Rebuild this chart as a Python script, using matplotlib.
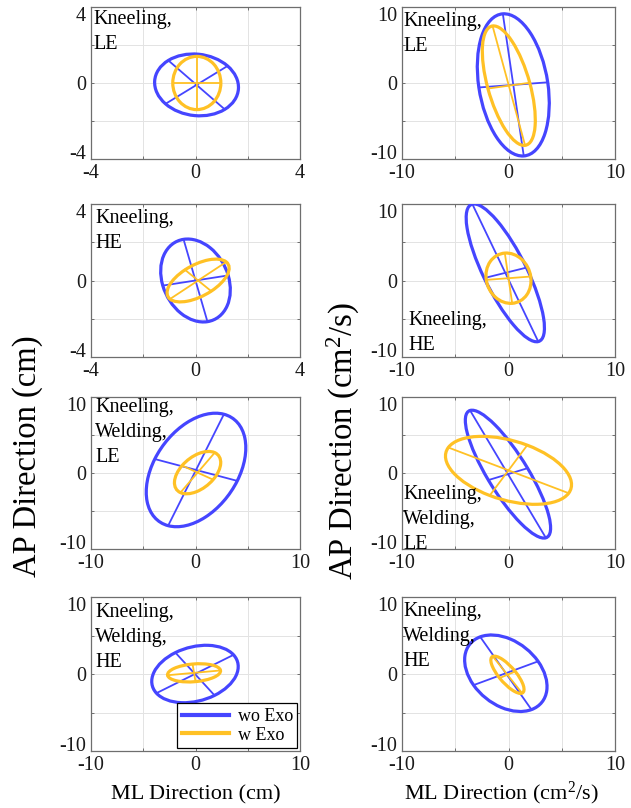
import numpy as np
import matplotlib
matplotlib.use("Agg")
import matplotlib.pyplot as plt
from matplotlib.patches import Ellipse
from matplotlib.lines import Line2D

plt.rcParams['font.family'] = ['Liberation Serif', 'DejaVu Serif']
plt.rcParams['mathtext.fontset'] = 'custom'
plt.rcParams['mathtext.rm'] = 'Liberation Serif'
plt.rcParams['mathtext.it'] = 'Liberation Serif:italic'

# Task conditions (one row each)
conditions = ["Kneeling,\nLE", "Kneeling,\nHE",
              "Kneeling,\nWelding,\nLE", "Kneeling,\nWelding,\nHE"]

# Axis limits per row for the displacement (left) and velocity (right) columns
disp_limits = [4, 4, 10, 10]
vel_limits = [10, 10, 10, 10]

ticks_small = [-4, -2, 0, 2, 4]
ticklabels_small = ["-4", "", "0", "", "4"]
ticks_large = [-10, -5, 0, 5, 10]
ticklabels_large = ["-10", "", "0", "", "10"]

# 95% confidence ellipses: centre (x, y), semi-major, semi-minor, orientation (deg)
# COP displacement, without exoskeleton
disp_wo_cx = [0.04, 0.0, 0.05, -0.05]
disp_wo_cy = [-0.1, 0.0, 0.4, 0.0]
disp_wo_a = [1.68, 2.2, 7.8, 4.45]
disp_wo_b = [1.55, 1.28, 4.2, 3.35]
disp_wo_ang = [-50, 102, 70, 34]
# COP displacement, with exoskeleton
disp_w_cx = [0.05, 0.1, 0.2, -0.14]
disp_w_cy = [0.0, 0.0, 0.05, 0.15]
disp_w_a = [1.40, 1.45, 3.1, 2.55]
disp_w_b = [0.92, 0.75, 1.75, 1.15]
disp_w_ang = [90, 42, 58, 7]
# COP velocity, without exoskeleton
vel_wo_cx = [0.45, -0.3, -0.05, -0.25]
vel_wo_cy = [-0.25, 1.0, -0.15, 0.1]
vel_wo_a = [9.4, 9.5, 9.1, 5.3]
vel_wo_b = [3.25, 2.1, 2.0, 3.4]
vel_wo_ang = [96, -71, -67, -63]
# COP velocity, with exoskeleton
vel_w_cx = [0.03, 0.0, 0.0, -0.1]
vel_w_cy = [-0.35, 0.3, 0.35, -0.1]
vel_w_a = [8.0, 3.3, 6.4, 2.75]
vel_w_b = [2.0, 2.1, 3.75, 0.85]
vel_w_ang = [101, 96, -28, -60]

series_names = ["wo Exo", "w Exo"]
BLUE = "#4545FF"
YELLOW = "#FFC125"

W, H = 631, 808
fig = plt.figure(figsize=(W / 100, H / 100), dpi=100)

col_x = [(91, 300), (402, 615)]
row_y = [(7, 159), (204, 357), (397, 549), (597, 751)]

# label placement: (x offset px, y offset px, anchored at top?)
disp_text_pos = [(2, -3, True), (4, -5, True), (4, -1, True), (4, -6, True)]
vel_text_pos = [(1, -5, True), (6, 7, False), (1, 0, False), (1, -5, True)]

TEXT_SIZE = 14.5


def px_rect(xr, yr):
    return [xr[0] / W, 1 - yr[1] / H, (xr[1] - xr[0]) / W, (yr[1] - yr[0]) / H]


def draw_ellipse(ax, cx, cy, a, b, ang, color):
    ax.add_patch(Ellipse((cx, cy), 2 * a, 2 * b, angle=ang, fill=False,
                         edgecolor=color, lw=2.3, zorder=3))
    t = np.deg2rad(ang)
    ux, uy = np.cos(t), np.sin(t)
    ax.plot([cx - a * ux, cx + a * ux], [cy - a * uy, cy + a * uy],
            color=color, lw=1.3, zorder=3)
    ax.plot([cx + b * uy, cx - b * uy], [cy - b * ux, cy + b * ux],
            color=color, lw=1.3, zorder=3)


def style_axes(ax, lim):
    if lim == 4:
        ticks, labels = ticks_small, ticklabels_small
    else:
        ticks, labels = ticks_large, ticklabels_large
    ax.set_xlim(-lim, lim)
    ax.set_ylim(-lim, lim)
    ax.set_xticks(ticks)
    ax.set_xticklabels(labels)
    ax.set_yticks(ticks)
    ax.set_yticklabels(labels)
    ax.grid(True, color="#e3e3e3", lw=0.7, zorder=0)
    ax.set_axisbelow(True)
    for s in ax.spines.values():
        s.set_color("#6e6e6e")
        s.set_linewidth(0.9)
    ax.tick_params(direction="in", length=2.5, width=0.7, colors="#6e6e6e",
                   labelcolor="#1a1a1a", labelsize=TEXT_SIZE, top=True,
                   right=True, pad=3.5)
    # keep the end labels of the y axis inside the axis height
    ylabels = ax.get_yticklabels()
    ylabels[0].set_verticalalignment("baseline")
    ylabels[-1].set_verticalalignment("top")


columns = [
    (disp_limits, disp_wo_cx, disp_wo_cy, disp_wo_a, disp_wo_b, disp_wo_ang,
     disp_w_cx, disp_w_cy, disp_w_a, disp_w_b, disp_w_ang, disp_text_pos),
    (vel_limits, vel_wo_cx, vel_wo_cy, vel_wo_a, vel_wo_b, vel_wo_ang,
     vel_w_cx, vel_w_cy, vel_w_a, vel_w_b, vel_w_ang, vel_text_pos),
]

legend_ax = None
for c, col in enumerate(columns):
    (lims, wcx, wcy, wa, wb, wang, ecx, ecy, ea, eb, eang, tpos) = col
    for r in range(4):
        ax = fig.add_axes(px_rect(col_x[c], row_y[r]))
        style_axes(ax, lims[r])
        draw_ellipse(ax, wcx[r], wcy[r], wa[r], wb[r], wang[r], BLUE)
        draw_ellipse(ax, ecx[r], ecy[r], ea[r], eb[r], eang[r], YELLOW)
        dx, dy, top = tpos[r]
        anchor = (0, 1) if top else (0, 0)
        ax.annotate(conditions[r], xy=anchor, xycoords="axes fraction",
                    xytext=(dx * 0.72, dy * 0.72), textcoords="offset points",
                    ha="left", va="top" if top else "baseline",
                    fontsize=TEXT_SIZE, linespacing=1.42, zorder=5)
        if c == 0 and r == 3:
            legend_ax = ax

handles = [Line2D([], [], color=BLUE, lw=3.0), Line2D([], [], color=YELLOW, lw=3.0)]
leg = legend_ax.legend(handles, series_names, loc="lower right", fontsize=13,
                       handlelength=2.6, handletextpad=0.5, labelspacing=0.1,
                       borderpad=0.25, borderaxespad=0.15, fancybox=False,
                       framealpha=1, edgecolor="black")
leg.get_frame().set_linewidth(0.9)

fig.text(195.5 / W, 1 - 799 / H, "ML Direction (cm)", ha="center",
         va="baseline", fontsize=16)
fig.text(501 / W, 1 - 799 / H, r"ML Direction (cm$^{2}$/s)", ha="center",
         va="baseline", fontsize=16)
fig.text(28 / W, 1 - 456 / H, "AP Direction (cm)", rotation=90,
         ha="center", va="center", fontsize=23.5)
fig.text(343 / W, 1 - 441 / H, r"AP Direction (cm$^{2}$/s)", rotation=90,
         ha="center", va="center", fontsize=23.5)

fig.savefig("out.png", dpi=100)
